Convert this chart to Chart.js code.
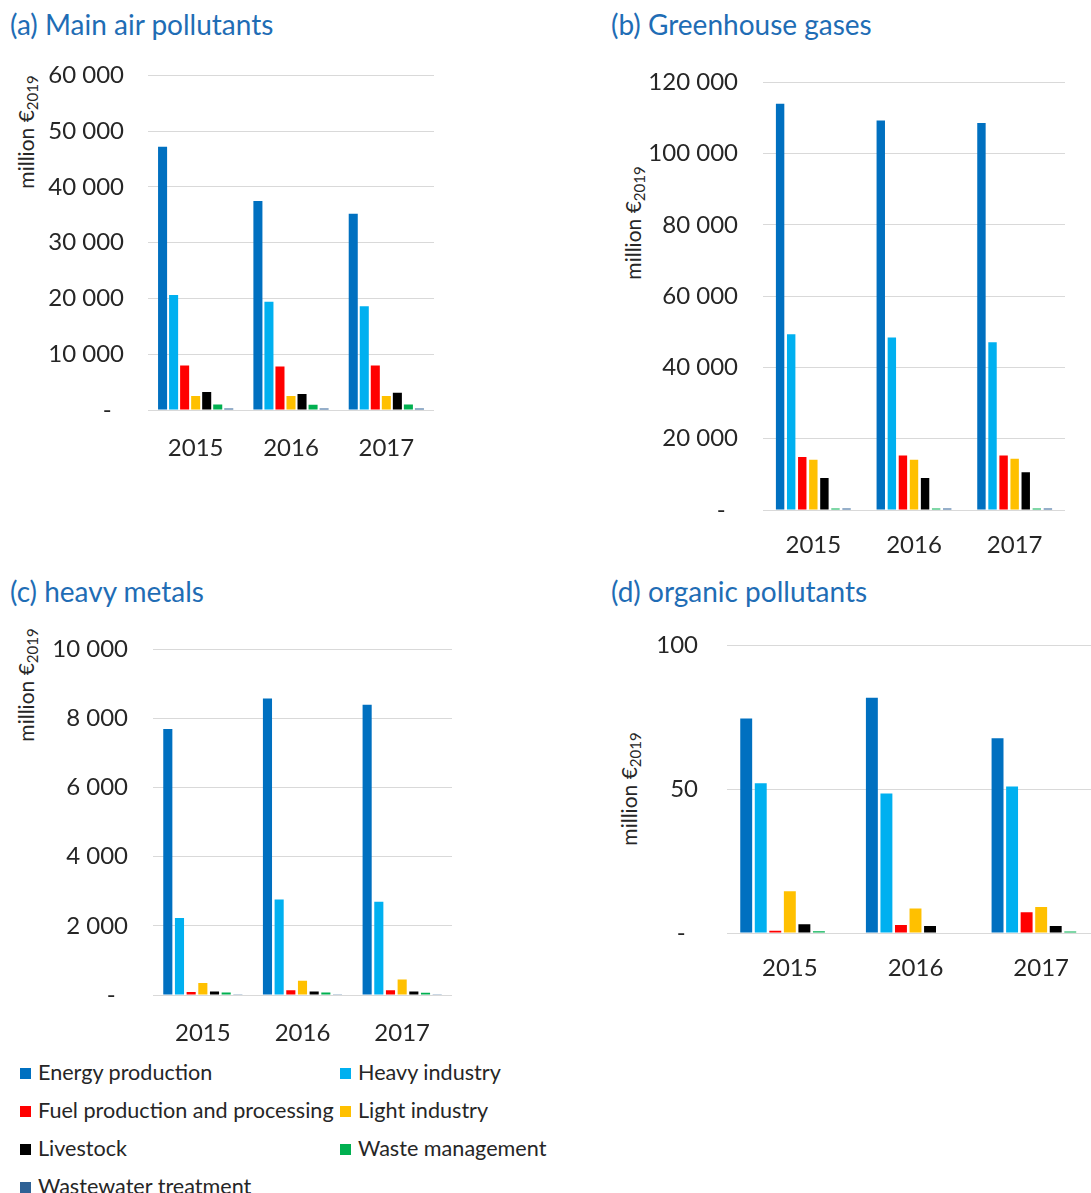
<!DOCTYPE html>
<html>
<head>
<meta charset="utf-8">
<script src="https://cdn.jsdelivr.net/npm/chart.js@4/dist/chart.umd.min.js"></script>
<style>
  html, body { margin:0; padding:0; background:#fff; overflow:hidden; width:1091px; height:1193px; }
  body { position:relative; font-family: Lato, "Open Sans", sans-serif; color:#262626; }
  .title { position:absolute; font-size:28px; line-height:32px; color:#1f6db5; white-space:nowrap; }
  .ytitle { position:absolute; font-size:21px; line-height:24px; white-space:nowrap; transform: translate(-50%,-50%) rotate(-90deg); }
  .ytitle sub { font-size:15px; vertical-align:-4px; line-height:0; }
  .box { position:absolute; }
  .leg { position:absolute; font-size:21.6px; line-height:26px; white-space:nowrap; }
  .leg i { display:inline-block; width:11px; height:11px; margin-right:7px; vertical-align:1px; }
</style>
</head>
<body>
<script>
// ---- data ----
const years = ['2015', '2016', '2017'];
const seriesNames = ['Energy production', 'Heavy industry', 'Fuel production and processing', 'Light industry', 'Livestock', 'Waste management', 'Wastewater treatment'];
const seriesColors = ['#0070C0', '#00B0F0', '#FF0000', '#FFC000', '#000000', '#00B050', '#2E6195'];
const chartTitles = ['(a) Main air pollutants', '(b) Greenhouse gases', '(c) heavy metals', '(d) organic pollutants'];
const yAxisLabel = 'million €';
const yAxisSub = '2019';

// values per series (same order as seriesNames), per year
const airPollutants = [
  [47200, 37500, 35200],
  [20600, 19400, 18600],
  [8000, 7800, 8000],
  [2500, 2500, 2500],
  [3250, 2850, 3100],
  [1000, 950, 1000],
  [250, 250, 250]
];
const greenhouseGases = [
  [114000, 109300, 108600],
  [49300, 48400, 47100],
  [14900, 15300, 15300],
  [14100, 14100, 14400],
  [9000, 9000, 10600],
  [400, 400, 400],
  [400, 400, 400]
];
const heavyMetals = [
  [7700, 8580, 8400],
  [2230, 2760, 2700],
  [90, 140, 140],
  [350, 410, 450],
  [100, 100, 100],
  [70, 70, 65],
  [5, 5, 5]
];
const organicPollutants = [
  [74.6, 81.8, 67.7],
  [52.1, 48.5, 50.9],
  [0.8, 2.8, 7.2],
  [14.5, 8.5, 9.0],
  [3.0, 2.4, 2.4],
  [0.6, 0, 0.5],
  [0, 0, 0]
];
const yMax = [60000, 120000, 10000, 100];
const yStep = [10000, 20000, 2000, 50];

// ---- layout (plot areas) ----
const panels = [
  { values: airPollutants,     plot: {l:148, r:434, t:74,  b:410}, yPad:24, xPad:16, cat:0.81, bar:0.82, title:{x:10, y:8},  ytitle:{x:26, y:132} },
  { values: greenhouseGases,   plot: {l:763, r:1065, t:80, b:510}, yPad:25, xPad:13, cat:0.77, bar:0.76, title:{x:611, y:8}, ytitle:{x:633, y:223} },
  { values: heavyMetals,       plot: {l:153, r:452, t:647, b:995}, yPad:25, xPad:16, cat:0.82, bar:0.78, title:{x:10, y:575}, ytitle:{x:26, y:685} },
  { values: organicPollutants, plot: {l:727, r:1104, t:639, b:933}, yPad:29, xPad:13, cat:0.81, bar:0.82, title:{x:611, y:575}, ytitle:{x:629, y:789} }
];

function fmt(v) {
  if (v === 0) return '-  ';
  return String(v).replace(/\B(?=(\d{3})+(?!\d))/g, ' ');
}

const FONT = 'Lato';
const YW = 120, XH = 60, TOPPAD = 20, TOPEXTRA = 17;

panels.forEach((p, i) => {
  const t = document.createElement('div');
  t.className = 'title';
  t.style.left = p.title.x + 'px'; t.style.top = p.title.y + 'px';
  t.textContent = chartTitles[i];
  document.body.appendChild(t);

  const yt = document.createElement('div');
  yt.className = 'ytitle';
  yt.style.left = p.ytitle.x + 'px'; yt.style.top = p.ytitle.y + 'px';
  yt.innerHTML = yAxisLabel + '<sub>' + yAxisSub + '</sub>';
  document.body.appendChild(yt);

  const left = p.plot.l - YW, top = p.plot.t - TOPPAD - TOPEXTRA;
  const w = p.plot.r - left, h = p.plot.b - top + XH;
  const box = document.createElement('div');
  box.className = 'box';
  box.style.left = left + 'px'; box.style.top = top + 'px';
  box.style.width = w + 'px'; box.style.height = h + 'px';
  const cv = document.createElement('canvas');
  cv.width = w; cv.height = h;
  cv.style.width = w + 'px'; cv.style.height = h + 'px';
  box.appendChild(cv);
  document.body.appendChild(box);

  new Chart(cv, {
    type: 'bar',
    data: {
      labels: years,
      datasets: seriesNames.map((name, k) => ({
        label: name,
        data: p.values[k],
        backgroundColor: seriesColors[k],
        borderWidth: 0,
        categoryPercentage: p.cat,
        barPercentage: p.bar
      }))
    },
    options: {
      responsive: false,
      animation: false,
      devicePixelRatio: 1,
      layout: { padding: { top: TOPPAD, left: 0, right: 0, bottom: 0 } },
      plugins: { legend: { display: false }, tooltip: { enabled: false }, title: { display: false } },
      scales: {
        x: {
          grid: { display: false },
          border: { display: true, color: '#d9d9d9', width: 1 },
          ticks: { color: '#262626', font: { family: FONT, size: 24 }, padding: p.xPad, maxRotation: 0 },
          afterFit: s => { s.height = XH; }
        },
        y: {
          min: 0, max: yMax[i],
          grid: { color: '#d9d9d9', lineWidth: 1, drawTicks: false },
          border: { display: false },
          ticks: { stepSize: yStep[i], color: '#262626', font: { family: FONT, size: 24 }, padding: p.yPad, callback: v => fmt(v) },
          afterFit: s => { s.width = YW; }
        }
      }
    }
  });
});

// legend
const legPos = [
  {x:20, y:1072}, {x:340, y:1072},
  {x:20, y:1110}, {x:340, y:1110},
  {x:20, y:1148}, {x:340, y:1148},
  {x:20, y:1186}
];
seriesNames.forEach((name, k) => {
  const d = document.createElement('div');
  d.className = 'leg';
  d.style.left = legPos[k].x + 'px';
  d.style.top = (legPos[k].y - 13) + 'px';
  d.innerHTML = '<i style="background:' + seriesColors[k] + '"></i>' + name;
  document.body.appendChild(d);
});
</script>
</body>
</html>
